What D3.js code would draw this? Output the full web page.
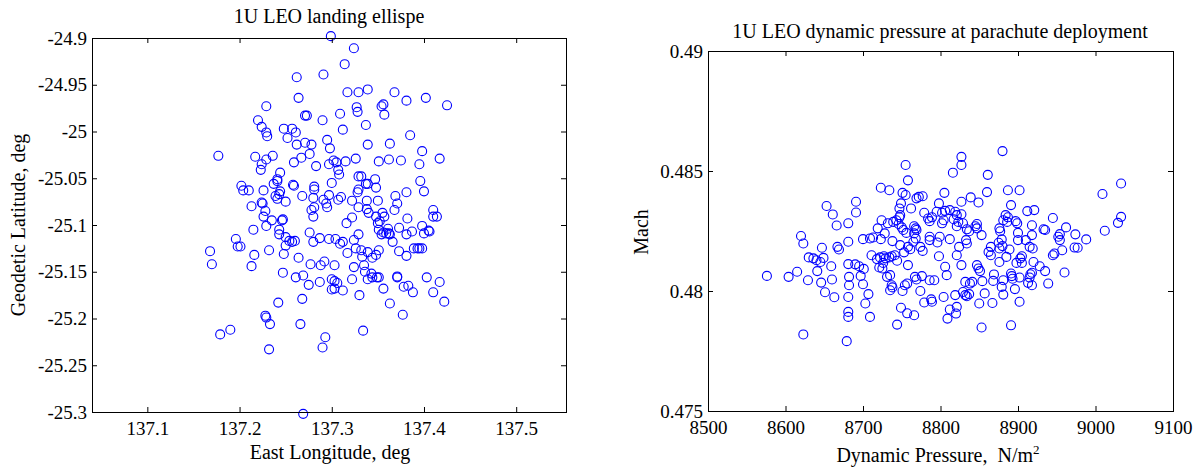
<!DOCTYPE html>
<html>
<head>
<meta charset="utf-8">
<script src="https://cdn.jsdelivr.net/npm/d3@7"></script>
<style>
  body { margin: 0; background: #fff; }
  svg text { font-family: "Liberation Serif", "Times New Roman", serif; fill: #000; }
</style>
</head>
<body>
<svg id="fig" width="1197" height="468"></svg>
<script>
// Landing ellipse: east longitude (deg) and geodetic latitude (deg) of each run
const longitudeDeg = [
  137.299,137.324,137.314,137.262,137.291,137.317,137.329,137.339,137.368,137.402,
  137.381,137.425,137.264,137.229,137.327,137.328,137.354,137.356,137.357,137.271,
  137.273,137.309,137.290,137.220,137.224,137.337,137.312,137.248,137.257,137.261,
  137.229,137.230,137.252,137.385,137.295,137.271,137.278,137.262,137.298,137.339,
  137.363,137.398,137.177,137.217,137.236,137.229,137.224,137.223,137.276,137.267,
  137.259,137.283,137.297,137.302,137.305,137.315,137.326,137.307,137.308,137.300,
  137.351,137.362,137.375,137.395,137.417,137.329,137.332,137.339,137.337,137.347,
  137.348,137.396,137.400,137.381,137.369,137.371,137.368,137.350,137.338,137.329,
  137.328,137.322,137.310,137.307,137.297,137.291,137.294,137.295,137.281,137.281,
  137.280,137.281,137.278,137.280,137.268,137.258,137.259,137.241,137.244,137.241,
  137.237,137.244,137.243,137.250,137.226,137.202,137.204,137.210,137.239,137.241,
  137.213,137.224,137.225,137.228,137.226,137.235,137.246,137.247,137.229,137.215,
  137.243,137.243,137.250,137.254,137.257,137.260,137.250,137.248,137.232,137.216,
  137.196,137.198,137.201,137.168,137.170,137.213,137.247,137.264,137.261,137.269,
  137.275,137.277,137.288,137.292,137.287,137.276,137.280,137.287,137.297,137.304,
  137.309,137.312,137.316,137.322,137.329,137.338,137.340,137.329,137.324,137.326,
  137.317,137.332,137.333,137.339,137.344,137.348,137.351,137.356,137.348,137.350,
  137.352,137.355,137.357,137.351,137.354,137.359,137.362,137.363,137.361,137.366,
  137.373,137.381,137.387,137.382,137.373,137.381,137.398,137.400,137.405,137.406,
  137.410,137.414,137.410,137.389,137.393,137.395,137.398,137.324,137.335,137.336,
  137.339,137.344,137.349,137.351,137.343,137.322,137.330,137.300,137.303,137.306,
  137.300,137.303,137.312,137.303,137.356,137.371,137.371,137.378,137.383,137.388,
  137.403,137.417,137.410,137.422,137.363,137.377,137.334,137.293,137.290,137.268,
  137.266,137.242,137.228,137.229,137.233,137.232,137.190,137.179,137.269
];
const latitudeDeg = [
  -24.898,-24.911,-24.928,-24.942,-24.939,-24.958,-24.958,-24.955,-24.958,-24.964,
  -24.967,-24.972,-24.964,-24.973,-24.974,-24.979,-24.973,-24.971,-24.982,-24.983,
  -24.983,-24.981,-24.988,-24.988,-24.995,-24.993,-24.998,-24.997,-24.997,-25.001,
  -25.001,-25.005,-25.007,-25.004,-25.009,-25.012,-25.014,-25.014,-25.018,-25.014,
  -25.013,-25.021,-25.026,-25.027,-25.026,-25.030,-25.035,-25.041,-25.024,-25.028,
  -25.033,-25.037,-25.035,-25.031,-25.033,-25.032,-25.029,-25.041,-25.046,-25.055,
  -25.032,-25.030,-25.031,-25.035,-25.029,-25.048,-25.048,-25.056,-25.056,-25.051,
  -25.060,-25.053,-25.064,-25.065,-25.069,-25.077,-25.084,-25.074,-25.074,-25.062,
  -25.065,-25.074,-25.070,-25.073,-25.068,-25.073,-25.077,-25.081,-25.059,-25.062,
  -25.071,-25.081,-25.084,-25.091,-25.069,-25.057,-25.058,-25.053,-25.044,-25.051,
  -25.056,-25.064,-25.067,-25.075,-25.063,-25.058,-25.063,-25.063,-25.069,-25.072,
  -25.080,-25.076,-25.077,-25.085,-25.091,-25.095,-25.095,-25.094,-25.101,-25.105,
  -25.105,-25.110,-25.113,-25.117,-25.118,-25.117,-25.122,-25.131,-25.127,-25.132,
  -25.115,-25.123,-25.123,-25.128,-25.142,-25.144,-25.151,-25.135,-25.156,-25.154,
  -25.164,-25.142,-25.143,-25.139,-25.161,-25.108,-25.118,-25.114,-25.115,-25.115,
  -25.120,-25.118,-25.098,-25.092,-25.081,-25.083,-25.087,-25.110,-25.116,-25.125,
  -25.130,-25.127,-25.134,-25.129,-25.135,-25.132,-25.127,-25.108,-25.091,-25.098,
  -25.096,-25.087,-25.091,-25.105,-25.110,-25.109,-25.109,-25.110,-25.104,-25.118,
  -25.103,-25.110,-25.107,-25.093,-25.128,-25.133,-25.101,-25.109,-25.106,-25.107,
  -25.091,-25.091,-25.084,-25.125,-25.125,-25.125,-25.125,-25.145,-25.143,-25.150,
  -25.158,-25.156,-25.156,-25.156,-25.152,-25.158,-25.175,-25.158,-25.160,-25.162,
  -25.169,-25.168,-25.170,-25.143,-25.168,-25.155,-25.156,-25.166,-25.165,-25.172,
  -25.156,-25.161,-25.172,-25.182,-25.184,-25.196,-25.213,-25.220,-25.231,-25.179,
  -25.206,-25.183,-25.197,-25.199,-25.206,-25.233,-25.212,-25.217,-25.302
];

// Parachute deployment: dynamic pressure (N/m^2) and Mach number of each run
const dynamicPressure = [
  8653,8661,8666,8681,8620,8623,8647,8667,8669,8681,8630,8636,8640,8645,8649,8659,8681,8641,8615,8604,
  8576,8629,8646,8660,8651,8663,8681,8681,8681,8623,8679,8682,8682,
  8755,8758,8723,8734,8751,8755,8769,8772,8777,8805,8816,8691,8691,8749,8747,8762,8748,8747,8724,8732,
  8739,8743,8746,8750,8752,8756,8766,8768,8769,8766,8779,8784,8786,8789,8798,8795,8802,8806,8812,8819,
  8821,8817,8804,8802,8823,8821,8719,8713,8709,8728,8700,8723,8738,8748,8753,8758,8761,8768,8765,8774,
  8777,8786,8786,8796,8799,8812,8798,8824,8821,8711,8718,8722,8727,8729,8734,8737,8741,8744,8726,8721,
  8725,8690,8695,8701,8697,8731,8735,8758,8737,8735,8738,8700,8707,8703,8709,8754,8757,8751,8767,8769,
  8776,8786,8792,8774,8779,8788,8789,8804,8808,8806,8819,8812,8809,8821,8820,8749,8757,8766,8744,
  8880,8827,8827,8861,8860,8887,8902,8891,8839,8849,8827,8884,8887,8881,8886,8897,8899,8912,8921,8827,
  8829,8847,8845,8847,8834,8837,8853,8876,8877,8900,8900,8918,8918,8933,8935,8945,8954,8952,8954,8962,
  8834,8833,8879,8875,8880,8876,8865,8862,8865,8889,8885,8910,8915,8919,8905,8903,8898,8905,8876,8945,
  8947,8957,8827,8847,8849,8851,8920,8928,8918,8916,8915,8935,8869,8868,8891,8892,8893,8881,8879,8896,
  8902,8913,8918,8939,8960,8854,8841,8838,8832,8829,8832,8837,8834,8857,8881,8850,8867,8902,8853,8891,
  9009,9033,9033,9029,9012,8988,8977,8973,8974
];
const machNumber = [
  0.48354,0.48319,0.48273,0.48282,0.48229,0.48198,0.48180,0.48184,0.48173,0.48205,0.48140,0.48136,0.48128,0.48121,0.48138,0.48103,0.48112,0.48083,0.48080,0.48059,
  0.48063,0.48045,0.48035,0.48048,0.47995,0.47974,0.47975,0.47913,0.47892,0.47819,0.47791,0.48024,0.48059,
  0.48525,0.48461,0.48430,0.48420,0.48409,0.48400,0.48386,0.48392,0.48395,0.48409,0.48493,0.48372,0.48327,0.48365,0.48344,0.48344,0.48316,0.48307,0.48295,0.48282,
  0.48288,0.48295,0.48279,0.48265,0.48254,0.48242,0.48270,0.48261,0.48254,0.48240,0.48326,0.48302,0.48291,0.48307,0.48365,0.48330,0.48326,0.48334,0.48337,0.48330,
  0.48316,0.48299,0.48295,0.48282,0.48288,0.48270,0.48261,0.48223,0.48219,0.48240,0.48216,0.48216,0.48208,0.48191,0.48161,0.48184,0.48174,0.48219,0.48205,0.48184,
  0.48167,0.48212,0.48226,0.48202,0.48226,0.48216,0.48145,0.48184,0.48149,0.48149,0.48133,0.48140,0.48145,0.48136,0.48140,0.48145,0.48149,0.48126,0.48117,0.48098,
  0.48094,0.48111,0.48103,0.48092,0.48063,0.48059,0.48066,0.48108,0.48024,0.48003,0.48015,0.48028,0.47987,0.47948,0.47892,0.48024,0.48031,0.48000,0.48059,0.48048,
  0.48062,0.48045,0.48045,0.48000,0.47952,0.47965,0.47955,0.47975,0.48066,0.48101,0.47983,0.47923,0.47885,0.47934,0.47906,0.47930,0.47907,0.47899,0.47860,
  0.48583,0.48559,0.48525,0.48484,0.48412,0.48420,0.48420,0.48358,0.48390,0.48369,0.48372,0.48316,0.48307,0.48295,0.48288,0.48291,0.48282,0.48333,0.48337,0.48320,
  0.48282,0.48279,0.48270,0.48261,0.48257,0.48249,0.48233,0.48261,0.48249,0.48242,0.48212,0.48274,0.48233,0.48257,0.48254,0.48304,0.48237,0.48226,0.48212,0.48265,
  0.48198,0.48212,0.48215,0.48201,0.48187,0.48177,0.48184,0.48163,0.48149,0.48173,0.48142,0.48212,0.48184,0.48177,0.48145,0.48136,0.48117,0.48117,0.48121,0.48149,
  0.48156,0.48170,0.48108,0.48108,0.48094,0.48083,0.48121,0.48103,0.48076,0.48070,0.48056,0.48083,0.48069,0.48042,0.48073,0.48062,0.48051,0.48045,0.48017,0.48008,
  0.48056,0.48034,0.48024,0.48031,0.48077,0.48041,0.48038,0.48031,0.48038,0.47996,0.47983,0.47987,0.47978,0.47990,0.47985,0.47948,0.47950,0.47955,0.47848,0.47857,
  0.48404,0.48448,0.48309,0.48284,0.48251,0.48215,0.48180,0.48181,0.48236
];

// Axis ranges and tick labels
const lonRange = [137.04, 137.554];
const latRange = [-25.3, -24.9];
const lonTicks = [137.1, 137.2, 137.3, 137.4, 137.5];
const latTicks = [-24.9, -24.95, -25, -25.05, -25.1, -25.15, -25.2, -25.25, -25.3];
const pressureRange = [8500, 9100];
const machRange = [0.475, 0.49];
const pressureTicks = [8500, 8600, 8700, 8800, 8900, 9000, 9100];
const machTicks = [0.475, 0.48, 0.485, 0.49];

const svg = d3.select("#fig");
const TICK = 5;
const MARK_R = 4.5;
const BLUE = "#0000ff";

function panel(cfg) {
  const { box, xDomain, yDomain, xTicks, yTicks, xFmt, yFmt, xs, ys } = cfg;
  const x = d3.scaleLinear().domain(xDomain).range([box.left, box.right]);
  const y = d3.scaleLinear().domain(yDomain).range([box.bottom, box.top]);
  const g = svg.append("g");

  // white plotting area
  g.append("rect")
    .attr("x", box.left).attr("y", box.top)
    .attr("width", box.right - box.left).attr("height", box.bottom - box.top)
    .attr("fill", "#fff");

  // markers
  g.append("g").selectAll("circle")
    .data(d3.range(xs.length))
    .join("circle")
    .attr("cx", i => x(xs[i]))
    .attr("cy", i => y(ys[i]))
    .attr("r", MARK_R)
    .attr("fill", "none")
    .attr("stroke", BLUE)
    .attr("stroke-width", 1.1);

  const styleAxis = sel => {
    sel.select(".domain").remove();
    sel.selectAll(".tick line").attr("stroke", "#000").attr("stroke-width", 1);
    sel.selectAll("text").attr("font-size", 19).attr("fill", "#000")
      .attr("font-family", '"Liberation Serif", "Times New Roman", serif');
  };

  // bottom and left axes with labels, top and right with ticks only (inward)
  g.append("g").attr("transform", `translate(0,${box.bottom})`)
    .call(d3.axisBottom(x).tickValues(xTicks).tickFormat(xFmt)
      .tickSizeInner(-TICK).tickSizeOuter(0).tickPadding(cfg.xPad))
    .call(styleAxis);
  g.append("g").attr("transform", `translate(0,${box.top})`)
    .call(d3.axisTop(x).tickValues(xTicks).tickFormat("")
      .tickSizeInner(-TICK).tickSizeOuter(0))
    .call(styleAxis);
  g.append("g").attr("transform", `translate(${box.left},0)`)
    .call(d3.axisLeft(y).tickValues(yTicks).tickFormat(yFmt)
      .tickSizeInner(-TICK).tickSizeOuter(0).tickPadding(5))
    .call(styleAxis);
  g.append("g").attr("transform", `translate(${box.right},0)`)
    .call(d3.axisRight(y).tickValues(yTicks).tickFormat("")
      .tickSizeInner(-TICK).tickSizeOuter(0))
    .call(styleAxis);

  // frame
  g.append("rect")
    .attr("x", box.left + 0.5).attr("y", box.top + 0.5)
    .attr("width", box.right - box.left).attr("height", box.bottom - box.top)
    .attr("fill", "none").attr("stroke", "#000").attr("stroke-width", 1);

  return { g, x, y };
}

const fmt = digits => d => String(+d.toFixed(digits));

// Left: landing ellipse
const left = panel({
  box: { left: 92, right: 566, top: 38, bottom: 412 },
  xDomain: lonRange, yDomain: latRange,
  xTicks: lonTicks, yTicks: latTicks,
  xFmt: fmt(1), yFmt: fmt(2), xPad: 10,
  xs: longitudeDeg, ys: latitudeDeg
});
left.g.append("text").attr("x", 329).attr("y", 23).attr("text-anchor", "middle")
  .attr("font-size", 20).text("1U LEO landing ellispe");
left.g.append("text").attr("x", 330).attr("y", 459).attr("text-anchor", "middle")
  .attr("font-size", 20).text("East Longitude, deg");
left.g.append("text").attr("transform", "translate(25,225) rotate(-90)")
  .attr("text-anchor", "middle").attr("font-size", 20).text("Geodetic Latitude, deg");

// Right: dynamic pressure at parachute deployment
const right = panel({
  box: { left: 708, right: 1173, top: 51, bottom: 411 },
  xDomain: pressureRange, yDomain: machRange,
  xTicks: pressureTicks, yTicks: machTicks,
  xFmt: fmt(0), yFmt: fmt(3), xPad: 10,
  xs: dynamicPressure, ys: machNumber
});
right.g.append("text").attr("x", 940).attr("y", 38).attr("text-anchor", "middle")
  .attr("font-size", 20).text("1U LEO dynamic pressure at parachute deployment");
const xl = right.g.append("text").attr("x", 938).attr("y", 462).attr("text-anchor", "middle")
  .attr("font-size", 20).attr("xml:space", "preserve").style("white-space", "pre");
xl.append("tspan").text("Dynamic Pressure,  N/m");
xl.append("tspan").attr("dy", -8).attr("font-size", 13).text("2");
right.g.append("text").attr("transform", "translate(648,232) rotate(-90)")
  .attr("text-anchor", "middle").attr("font-size", 20).text("Mach");
</script>
</body>
</html>
